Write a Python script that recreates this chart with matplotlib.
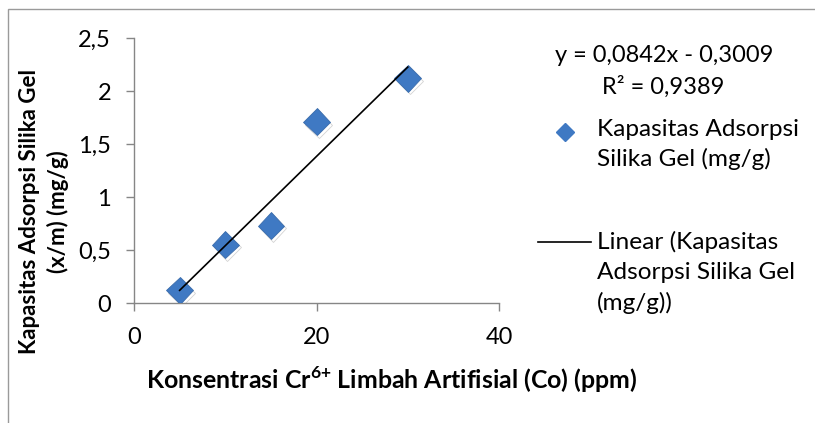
import numpy as np
import matplotlib
matplotlib.use("Agg")
import matplotlib.pyplot as plt
import matplotlib.patheffects as pe
from matplotlib.lines import Line2D
from matplotlib.patches import Rectangle

# data
konsentrasi = [5, 10, 15, 20, 30]
kapasitas = [0.12, 0.55, 0.73, 1.71, 2.12]
x_ticks = [0, 20, 40]
y_ticks = [0, 0.5, 1, 1.5, 2, 2.5]
equation = "y = 0,0842x - 0,3009"
r_squared = "R\u00b2 = 0,9389"
series_label = ["Kapasitas Adsorpsi", "Silika Gel (mg/g)"]
trend_label = ["Linear (Kapasitas", "Adsorpsi Silika Gel", "(mg/g))"]

W, H = 815, 423
plt.rcParams["font.family"] = ["Lato", "DejaVu Sans"]
plt.rcParams["mathtext.fontset"] = "custom"
plt.rcParams["mathtext.rm"] = "Lato:bold"
plt.rcParams["mathtext.bf"] = "Lato:bold"

fig = plt.figure(figsize=(W / 100, H / 100), dpi=100)


def fx(px):
    return px / W


def fy(py):
    # pixel from top -> figure fraction
    return 1 - py / H


ax = fig.add_axes([fx(134), fy(303), fx(499) - fx(134), fy(38) - fy(303)])

blue = "#3F79C3"
ax.plot(konsentrasi, kapasitas, linestyle="none", marker="D", ms=13.5,
        color=blue, markeredgecolor="#3A6CAB", markeredgewidth=0.6, zorder=3,
        path_effects=[pe.SimpleLineShadow(offset=(1.5, -2), alpha=0.35, shadow_color="gray"),
                      pe.Normal()])

# linear trendline
slope, intercept = np.polyfit(konsentrasi, kapasitas, 1)
xs = np.array([min(konsentrasi), max(konsentrasi)])
ax.plot(xs, slope * xs + intercept, color="black", lw=1.2, zorder=4)

ax.set_xlim(0, 40)
ax.set_ylim(0, 2.5)
ax.set_xticks(x_ticks)
ax.set_yticks(y_ticks)
ax.set_xticklabels([str(t) for t in x_ticks])
ax.set_yticklabels([("%g" % t).replace(".", ",") for t in y_ticks])
for s in ["top", "right"]:
    ax.spines[s].set_visible(False)
for s in ["left", "bottom"]:
    ax.spines[s].set_color("#868686")
    ax.spines[s].set_linewidth(1.0)
ax.tick_params(axis="both", direction="out", length=5.5, width=1.0, color="#868686",
               labelsize=17, labelcolor="black")
ax.tick_params(axis="y", pad=11)
ax.tick_params(axis="x", pad=12)

# axis titles
fig.text(fx(392), fy(380), r"Konsentrasi Cr$^{\text{6+}}$ Limbah Artifisial (Co) (ppm)",
         ha="center", va="center", fontsize=17.9, fontweight="bold")
fig.text(fx(44), fy(212), "Kapasitas Adsorpsi Silika Gel\n(x/m) (mg/g)",
         ha="center", va="center", rotation=90, fontsize=16, fontweight="bold",
         linespacing=1.35)

# trendline equation
fig.text(fx(664), fy(55), equation, ha="center", va="center", fontsize=17)
fig.text(fx(663), fy(87), r_squared, ha="center", va="center", fontsize=17)

# legend
fig.add_artist(Line2D([fx(565)], [fy(132)], marker="D", ms=9, color=blue,
                      linestyle="none", transform=fig.transFigure))
for i, t in enumerate(series_label):
    fig.text(fx(597), fy(130 + 29 * i), t, ha="left", va="center", fontsize=17.6)
fig.add_artist(Line2D([fx(538), fx(591)], [fy(242), fy(242)], color="black", lw=1.2,
                      transform=fig.transFigure))
for i, t in enumerate(trend_label):
    fig.text(fx(597), fy(242 + 30.5 * i), t, ha="left", va="center", fontsize=17.6)

# chart border
fig.add_artist(Rectangle((fx(7.5), -0.2), 1.2, fy(9) + 0.2, fill=False,
                         edgecolor="#9A9A9A", lw=1.0, transform=fig.transFigure))

plt.savefig("out.png", dpi=100)
